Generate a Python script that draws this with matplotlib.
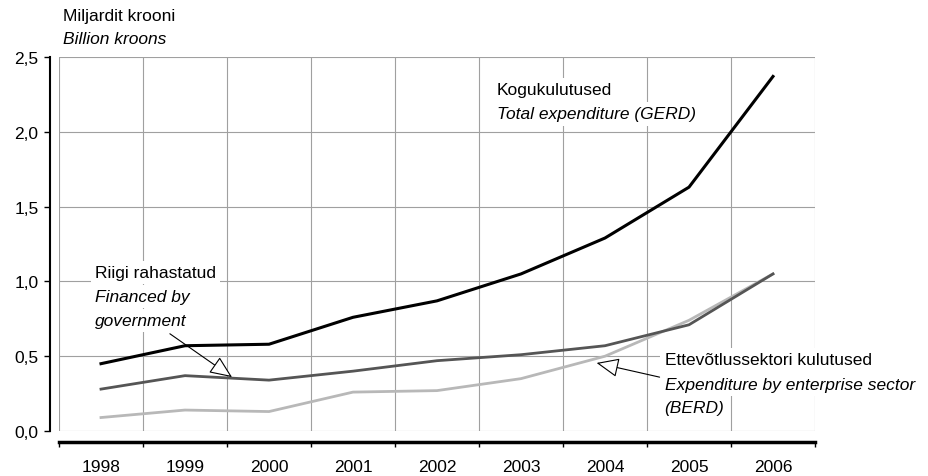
import numpy as np
import matplotlib
matplotlib.use("Agg")
import matplotlib.pyplot as plt

plt.rcParams['font.family'] = ['Liberation Sans', 'DejaVu Sans']

# andmed (miljardit krooni)
years = ['1998', '1999', '2000', '2001', '2002', '2003', '2004', '2005', '2006']
total = [0.45, 0.57, 0.58, 0.76, 0.87, 1.05, 1.29, 1.63, 2.37]
government = [0.28, 0.37, 0.34, 0.40, 0.47, 0.51, 0.57, 0.71, 1.05]
enterprise = [0.09, 0.14, 0.13, 0.26, 0.27, 0.35, 0.50, 0.74, 1.05]
y_ticks = [0.0, 0.5, 1.0, 1.5, 2.0, 2.5]
y_labels = ['0,0', '0,5', '1,0', '1,5', '2,0', '2,5']

FS = 12.5
W, H = 929, 477
fig = plt.figure(figsize=(W / 100, H / 100), dpi=100)
ax = fig.add_axes([59 / W, (H - 432) / H, (815 - 59) / W, (432 - 58) / H])

x = np.arange(len(years))
ax.plot(x, enterprise, color='#b8b8b8', lw=2.0, zorder=3)
ax.plot(x, government, color='#555555', lw=2.0, zorder=4)
ax.plot(x, total, color='black', lw=2.2, zorder=5)

ax.set_xlim(-0.5, len(years) - 0.5)
ax.set_ylim(0, 2.5)

# ruudustik ja teljed
ax.set_xticks(np.arange(-0.5, len(years), 1))
ax.set_xticklabels([])
ax.set_xticks(x, minor=True)
ax.set_xticklabels(years, minor=True)
ax.tick_params(axis='x', which='major', direction='out', length=3.8, width=1, color='black')
ax.tick_params(axis='x', which='minor', length=0, pad=12, labelsize=FS)
ax.set_yticks(y_ticks)
ax.set_yticklabels(y_labels)
ax.tick_params(axis='y', direction='out', length=4.3, width=1, pad=4, labelsize=FS)
ax.grid(True, which='major', color='#a0a0a0', lw=0.8)
for gl in ax.get_xgridlines() + ax.get_ygridlines():
    gl.set_clip_on(False)

for s in ['top', 'right']:
    ax.spines[s].set_visible(False)
ax.spines['left'].set_position(('outward', 6.5))
ax.spines['left'].set_linewidth(1.5)
ax.spines['bottom'].set_position(('outward', 7.9))
ax.spines['bottom'].set_linewidth(2.5)

# ühik
fig.text(63 / W, 1 - 16 / H, 'Miljardit krooni', fontsize=FS, va='center')
fig.text(63 / W, 1 - 40 / H, 'Billion kroons', fontsize=FS, va='center', style='italic')

box = dict(facecolor='white', edgecolor='none', pad=3)
ax.text(4.71, 2.28, 'Kogukulutused', fontsize=FS, va='center', bbox=box, zorder=6)
ax.text(4.71, 2.12, 'Total expenditure (GERD)', fontsize=FS, va='center',
        style='italic', bbox=box, zorder=6)

ax.text(-0.07, 1.06, 'Riigi rahastatud', fontsize=FS, va='center', bbox=box, zorder=6)
ax.text(-0.07, 0.90, 'Financed by', fontsize=FS, va='center', style='italic', bbox=box, zorder=6)
ax.text(-0.07, 0.74, 'government', fontsize=FS, va='center', style='italic', bbox=box, zorder=6)

ax.text(6.71, 0.475, 'Ettevõtlussektori kulutused', fontsize=FS, va='center', bbox=box, zorder=6)
ax.text(6.71, 0.314, 'Expenditure by enterprise sector', fontsize=FS, va='center',
        style='italic', bbox=box, zorder=6)
ax.text(6.71, 0.154, '(BERD)', fontsize=FS, va='center', style='italic', bbox=box, zorder=6)

arrow = dict(arrowstyle='-|>,head_length=0.7,head_width=0.3', fc='white', ec='black',
             lw=0.8, mutation_scale=20, shrinkA=0, shrinkB=0)
ax.annotate('', xy=(1.56, 0.36), xytext=(0.82, 0.65), arrowprops=arrow, zorder=7)
ax.annotate('', xy=(5.90, 0.455), xytext=(6.65, 0.36), arrowprops=arrow, zorder=7)

fig.savefig('out.png', dpi=100)
